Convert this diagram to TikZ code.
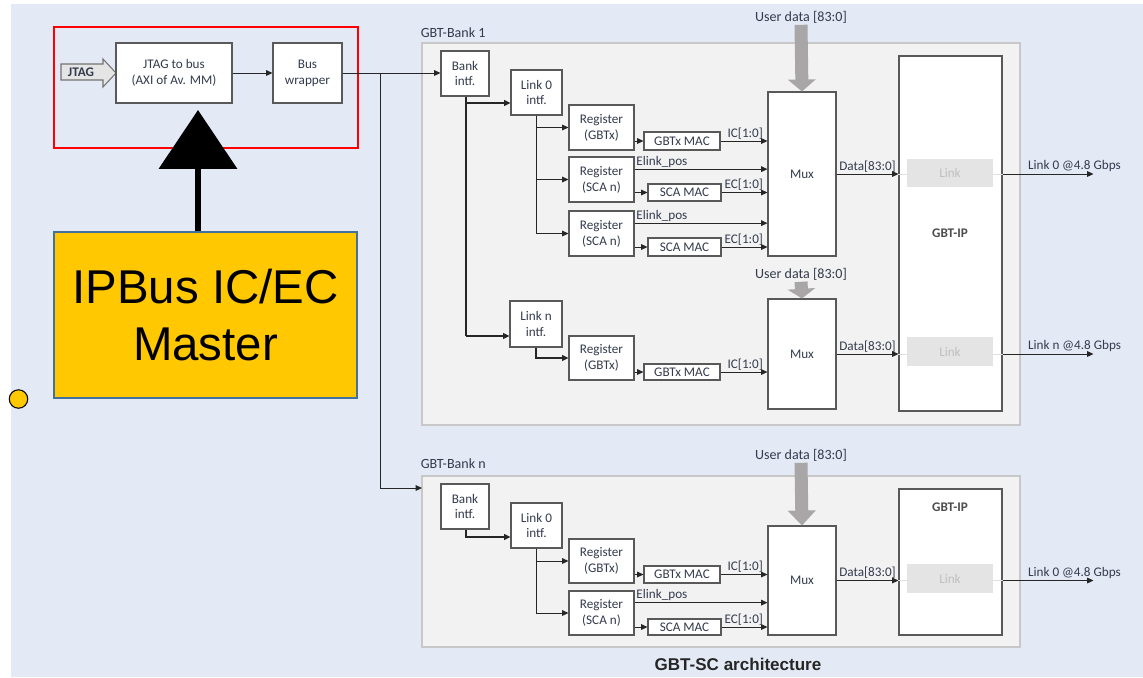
\documentclass[tikz,border=0pt]{standalone}
\usepackage{fontspec}
\setmainfont{Carlito}
\newfontfamily\arialfont{Liberation Sans}
\usetikzlibrary{arrows.meta,fit,shadows,calc}

\definecolor{bgblue}{HTML}{E3EAF6}
\definecolor{panelgray}{HTML}{F2F2F2}
\definecolor{panelline}{HTML}{C8C8C8}
\definecolor{boxline}{HTML}{595959}
\definecolor{txtgray}{HTML}{333B4D}
\definecolor{wiregray}{HTML}{262626}
\definecolor{linkgray}{HTML}{E4E4E4}
\definecolor{udgray}{HTML}{A8A6A6}
\definecolor{ipgold}{HTML}{FFC800}
\definecolor{ipline}{HTML}{41719C}

\tikzset{
  boxtxt/.style={align=center, text=txtgray, inner sep=0pt},
  blk/.style={draw=boxline, line width=0.6pt, fill=white, inner sep=0pt, label={[boxtxt]center:#1},
    drop shadow={shadow xshift=0.5pt, shadow yshift=-0.5pt, fill=black!50, opacity=0.5}},
  blk/.default={},
  panel/.style={draw=panelline, line width=0.8pt, fill=panelgray, inner sep=0pt},
  linkbox/.style={fill=linkgray, inner sep=0pt, label={[boxtxt, text=black!25]center:Link}},
  conn/.style={draw=wiregray, line width=0.55pt, -{Triangle[length=3.6pt,width=3.2pt]}},
  thickconn/.style={conn, line width=1.1pt},
  faint/.style={draw=black!12, line width=0.5pt},
  lbl/.style={inner sep=0.8pt, text=txtgray},
  iptxt/.style={lbl, font=\fontsize{7.5}{9}\selectfont\bfseries, text=black!70},
  banktitle/.style={lbl, anchor=west, font=\fontsize{8}{9}\selectfont},
  udlbl/.style={lbl, font=\fontsize{8}{9}\selectfont},
  udarrow/.style={draw=udgray, line width=7.4pt, -{Triangle[length=#1,width=15.5pt]}},
  udarrow/.default=7pt,
}

\begin{document}
\begin{tikzpicture}[x=0.02cm, y=-0.02cm, font=\fontsize{7.5}{9}\selectfont]
  \useasboundingbox (0,0) rectangle (1143,677);
  \fill[bgblue] (11,4) rectangle (1143,677);

  % JTAG master
  \draw[red, line width=0.8pt] (54,27) rectangle (358,148);
  \filldraw[fill=black!10, draw=black!55, line width=0.6pt] (61,64) -- (103,64) -- (103,59) -- (116,73) -- (103,87) -- (103,80) -- (61,80) -- cycle;
  \node[lbl, font=\fontsize{7.5}{9}\selectfont\bfseries] (jtag-in) at (81,72) {JTAG};
  \node[blk={JTAG to bus\\(AXI of Av. MM)}, fit={(116,43) (232,103)}] (jtag2bus) {};
  \node[blk={Bus\\wrapper}, fit={(273,43) (342,103)}] (buswrap) {};
  \draw[conn] (jtag2bus) -- (buswrap);

  % IPBus master
  \node[draw=ipline, fill=ipgold, line width=0.8pt, inner sep=0pt, fit={(54,232) (357,398)},
    label={[align=center, inner sep=0pt, font=\arialfont\fontsize{27}{32.3}\selectfont]center:IPBus IC/EC\\Master}] (ipbus) {};
  \coordinate (ipbus-tip) at (198,110);
  \draw[line width=3.4pt, -{Triangle[length=33.5pt,width=44pt]}] (ipbus.north -| ipbus-tip) -- (ipbus-tip);
  \node[circle, draw=black, fill=ipgold, line width=0.6pt, minimum size=10.5pt, inner sep=0pt] (bullet) at (18.5,399) {};

  % GBT-Bank 1
  \node[panel, fit={(422,43) (1020,425)}] (bank1) {};
  \node[banktitle] (bank1-title) at (419,33) {GBT-Bank 1};
  \node[blk={Bank\\intf.}, fit={(441,51) (489,96)}] (b1-bif) {};
  \node[blk={Link 0\\intf.}, fit={(511,70) (562,115)}] (b1-l0) {};
  \node[blk={Register\\(GBTx)}, fit={(569,105) (634,150)}] (b1-rg) {};
  \node[blk={Register\\(SCA n)}, fit={(569,157) (634,202)}] (b1-rs1) {};
  \node[blk={Register\\(SCA n)}, fit={(569,211) (634,256)}] (b1-rs2) {};
  \node[blk={GBTx MAC}, fit={(644,132) (720,150)}] (b1-gmac) {};
  \node[blk={SCA MAC}, fit={(648,184) (721,201)}] (b1-smac1) {};
  \node[blk={SCA MAC}, fit={(648,238) (721,256)}] (b1-smac2) {};
  \node[blk={Mux}, fit={(768,92) (836,256)}] (b1-mux) {};
  \node[blk={Link n\\intf.}, fit={(510,301) (562,347)}] (b1-ln) {};
  \node[blk={Register\\(GBTx)}, fit={(569,336) (634,380)}] (b1-rgn) {};
  \node[blk={GBTx MAC}, fit={(644,364) (720,380)}] (b1-gmacn) {};
  \node[blk={Mux}, fit={(768,299) (836,409)}] (b1-muxn) {};
  \node[blk, fit={(899,56) (1002,411)}] (b1-ip) {};
  \node[iptxt] (b1-ip-title) at (950,233) {GBT-IP};
  \node[linkbox, fit={(907,159) (993,187)}] (b1-lk0) {};
  \node[linkbox, fit={(907,337) (993,366)}] (b1-lkn) {};
  \node[udlbl] (b1-ud) at (801,17) {User data [83:0]};
  \node[udlbl] (b1-udn) at (801,274) {User data [83:0]};

  % GBT-Bank n
  \node[panel, fit={(422,476) (1020,647)}] (bankn) {};
  \node[banktitle] (bankn-title) at (419,464) {GBT-Bank n};
  \node[blk={Bank\\intf.}, fit={(441,484) (489,529)}] (bn-bif) {};
  \node[blk={Link 0\\intf.}, fit={(511,503) (562,548)}] (bn-l0) {};
  \node[blk={Register\\(GBTx)}, fit={(569,539) (634,583)}] (bn-rg) {};
  \node[blk={Register\\(SCA n)}, fit={(569,591) (634,635)}] (bn-rs) {};
  \node[blk={GBTx MAC}, fit={(644,566) (720,583)}] (bn-gmac) {};
  \node[blk={SCA MAC}, fit={(648,619) (721,635)}] (bn-smac) {};
  \node[blk={Mux}, fit={(768,526) (836,635)}] (bn-mux) {};
  \node[blk, fit={(899,489) (1002,635)}] (bn-ip) {};
  \node[iptxt] (bn-ip-title) at (950,507) {GBT-IP};
  \node[linkbox, fit={(907,564) (993,593)}] (bn-lk) {};
  \node[udlbl] (bn-ud) at (801,455) {User data [83:0]};

  % bus to the banks
  \draw[conn] (buswrap.east) -- (buswrap.east -| b1-bif.west);
  \coordinate (bus-split) at (380,73);
  \coordinate (bankn-in) at (422,488);
  \draw[conn] (bus-split) |- (bankn-in);

  % bank 1 wiring
  \coordinate (b1-t0) at (466,103);
  \coordinate (b1-tn) at (466,336);
  \draw[wiregray, line width=1.1pt] (b1-bif.south -| b1-t0) -- (b1-tn);
  \draw[thickconn] (b1-t0) -- (b1-t0 -| b1-l0.west);
  \draw[thickconn] (b1-tn) -- (b1-tn -| b1-ln.west);
  \foreach \rn in {rg, rs1, rs2}
    \draw[conn] (b1-l0.south) |- (b1-\rn.west);
  \draw[conn] (b1-gmac.west -| b1-rg.east) -- (b1-gmac.west);
  \draw[conn] (b1-gmac.east) -- (b1-gmac.east -| b1-mux.west) node[lbl, anchor=south east, pos=1, xshift=-1.5pt] {IC[1:0]};
  \foreach \i in {1,2} {
    \coordinate (b1-e\i) at ([yshift=5.9pt]b1-rs\i.east);
    \draw[conn] (b1-e\i) -- (b1-e\i -| b1-mux.west) node[lbl, anchor=south west, pos=0] {Elink\_pos};
    \draw[conn] (b1-smac\i.west -| b1-rs\i.east) -- (b1-smac\i.west);
    \draw[conn] (b1-smac\i.east) -- (b1-smac\i.east -| b1-mux.west) node[lbl, anchor=south east, pos=1, xshift=-1.5pt] {EC[1:0]};
  }
  \draw[thickconn] (b1-ln.south) |- (b1-rgn.west);
  \draw[conn] (b1-gmacn.west -| b1-rgn.east) -- (b1-gmacn.west);
  \draw[conn] (b1-gmacn.east) -- (b1-gmacn.east -| b1-muxn.west) node[lbl, anchor=south east, pos=1, xshift=-1.5pt] {IC[1:0]};

  % bank n wiring
  \coordinate (bn-t0) at (466,537);
  \draw[thickconn] (bn-bif.south -| bn-t0) |- (bn-t0 -| bn-l0.west);
  \foreach \rn in {rg, rs}
    \draw[conn] (bn-l0.south) |- (bn-\rn.west);
  \draw[conn] (bn-gmac.west -| bn-rg.east) -- (bn-gmac.west);
  \draw[conn] (bn-gmac.east) -- (bn-gmac.east -| bn-mux.west) node[lbl, anchor=south east, pos=1, xshift=-1.5pt] {IC[1:0]};
  \coordinate (bn-e) at ([yshift=5.9pt]bn-rs.east);
  \draw[conn] (bn-e) -- (bn-e -| bn-mux.west) node[lbl, anchor=south west, pos=0] {Elink\_pos};
  \draw[conn] (bn-smac.west -| bn-rs.east) -- (bn-smac.west);
  \draw[conn] (bn-smac.east) -- (bn-smac.east -| bn-mux.west) node[lbl, anchor=south east, pos=1, xshift=-1.5pt] {EC[1:0]};

  % mux to GBT-IP and the links out
  \foreach \mx/\lk/\gi/\tx in {b1-mux/b1-lk0/b1-ip/Link 0, b1-muxn/b1-lkn/b1-ip/Link n, bn-mux/bn-lk/bn-ip/Link 0} {
    \draw[conn] (\mx.east) -- (\mx.east -| \gi.west) node[lbl, above, midway] {Data[83:0]};
    \draw[faint] (\mx.east -| \gi.west) -- (\mx.east -| \lk.west);
    \draw[faint] (\mx.east -| \lk.east) -- (\mx.east -| \gi.east);
    \coordinate (\mx-out) at ($(\mx.east -| \gi.east)+(91,0)$);
    \draw[conn] (\mx.east -| \gi.east) -- (\mx-out) node[lbl, anchor=south west, pos=0.26] {\tx\ @4.8 Gbps};
  }

  % user data
  \draw[udarrow=6.8pt] (b1-ud.south) -- (b1-mux.north);
  \draw[udarrow=5.5pt] (b1-udn.south) -- (b1-muxn.north);
  \draw[udarrow=8.5pt] (bn-ud.south) -- (bn-mux.north);

  \node[font=\arialfont\bfseries\fontsize{9.7}{11}\selectfont, text=black!85] (caption) at (738,664) {GBT-SC architecture};
\end{tikzpicture}
\end{document}
